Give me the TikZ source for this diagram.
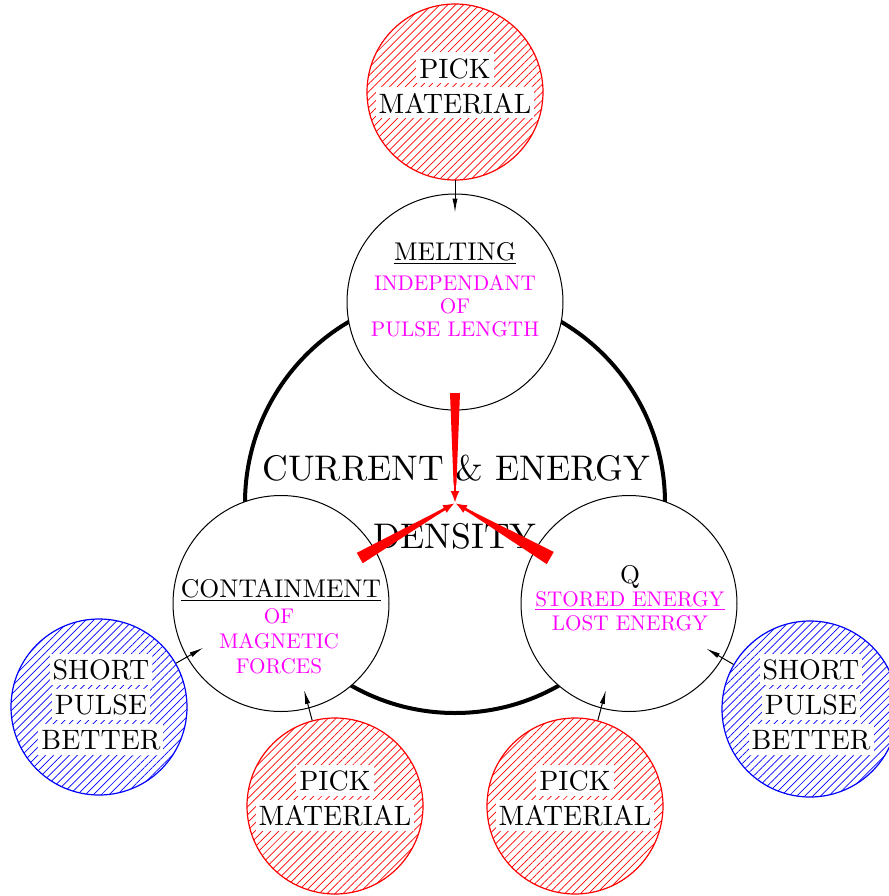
\documentclass[tikz,border=0pt]{standalone}
\usepackage{tikz}
\usetikzlibrary{
  arrows.meta,
  calc,
  chains,
  scopes,
  patterns.meta,
  positioning
}
% one design size for every size, as in the drawing
\DeclareFontShape{TU}{lmr}{m}{n}{<-> "[lmroman10-regular]:mapping=tex-text;"}{}
\definecolor{pinkish}{RGB}{255,0,255}
\setlength{\fboxsep}{1.5pt}
\newcommand{\wbox}[1]{\colorbox{white}{\rule[-1pt]{0pt}{12.5pt}#1}}

\begin{document}
\begin{tikzpicture}[x=0.5pt,y=-0.5pt,
      goal/.style={
         circle,
         minimum size=108pt,
         inner sep=0pt,
         draw=black,
         line width=0.5pt,
         fill=white
      },
      hatched/.style={
         circle,
         minimum size=88pt,
         inner sep=0pt,
         line width=0.6pt,
         draw=#1,
         pattern={Lines[angle=45,distance=2.8pt,line width=0.35pt]},
         pattern color=#1
      },
      hatchtext/.style={align=center, inner sep=0pt, font=\fontsize{14}{17.5}\selectfont},
      title/.style={anchor=base, inner sep=0pt, font=\fontsize{12.8}{15}\selectfont},
      remark/.style={anchor=north, inner sep=0pt, align=center, text=pinkish,
         font=\fontsize{10.6}{#1}\selectfont},
      bigtext/.style={anchor=base, inner sep=0pt, font=\fontsize{17.8}{21}\selectfont},
      >={Latex[length=7pt,width=2.6pt]},
      tip/.style={->, line width=0.5pt, shorten >=-9.5pt},
    ]
    \useasboundingbox (0,0) rectangle (889,896);
    \coordinate (hub) at (455,503);
    \node (ring) [circle, draw, line width=2pt, minimum size=210pt, inner sep=0pt] at (hub) {};

    % the three goals
    \node (melt) [goal] at (455,302) {};
    \node (cont) [goal] at (281,603.5) {};
    \node (qual) [goal] at (629,603.5) {};

    % what helps them
    \node (pickA) [hatched=red] at (455,92) {};
    \node (pickB) [hatched=red] at (335,806) {};
    \node (pickC) [hatched=red] at (575,806) {};
    \node (shortL) [hatched=blue] at (99,707) {};
    \node (shortR) [hatched=blue] at (810,709) {};

    \node (pickAtext) [hatchtext] at (455,85) {\wbox{PICK}\\\wbox{MATERIAL}};
    \node (pickBtext) [hatchtext] at (335,797.5) {\wbox{PICK}\\\wbox{MATERIAL}};
    \node (pickCtext) [hatchtext] at (575,797.5) {\wbox{PICK}\\\wbox{MATERIAL}};
    \node (shortLtext) [hatchtext] at (101,704) {\wbox{SHORT}\\\wbox{PULSE}\\\wbox{BETTER}};
    \node (shortRtext) [hatchtext] at (811,704) {\wbox{SHORT}\\\wbox{PULSE}\\\wbox{BETTER}};

    \node (meltTitle) [title] at (455,260) {\underline{MELTING}};
    \node (meltNote) [remark=11.5pt] at (455,275) {INDEPENDANT\\OF\\PULSE LENGTH};
    \node (contTitle) [title] at (281,597) {\underline{CONTAINMENT}};
    \node (contNote) [remark=12.5pt] at (279,608) {OF\\MAGNETIC\\FORCES};
    \node (qualTitle) [title] at (630,583) {Q};
    \node (qualNote) [remark=12pt] at (630,591) {\underline{STORED ENERGY}\\LOST ENERGY};

    \node (curText) [bigtext] at (456.5,480) {CURRENT \& ENERGY};
    \node (denText) [bigtext] at (455,548) {DENSITY};

  { [start chain]
       \chainin (pickA);
       \chainin (melt)    [join=by tip];
  }
  { [start chain]
       \chainin (shortL);
       \chainin (cont)    [join=by tip];
  }
  { [start chain]
       \chainin (pickB);
       \chainin (cont)    [join=by tip];
  }
  { [start chain]
       \chainin (pickC);
       \chainin (qual)    [join=by tip];
  }
  { [start chain]
       \chainin (shortR);
       \chainin (qual)    [join=by tip];
  }

    % tapered red arrows into the hub
    \coordinate (sM) at ($(hub)!55pt!(melt)$);
    \coordinate (sC) at ($(hub)!55pt!(cont)$);
    \coordinate (sQ) at ($(hub)!55pt!(qual)$);
    \foreach \s/\w in {sM/2.5pt, sC/3pt, sQ/3.5pt} {
       \coordinate (tipbase) at ($(hub)!9pt!(\s)$);
       \fill[red] ($(\s)!\w!90:(hub)$) -- ($(tipbase)!0.7pt!-90:(\s)$)
          -- ($(tipbase)!0.7pt!90:(\s)$) -- ($(\s)!\w!-90:(hub)$) -- cycle;
       \draw[red, line width=1.4pt, -{Latex[length=6pt,width=4.5pt]}] ($(hub)!10pt!(\s)$) -- (hub);
    }
\end{tikzpicture}
\end{document}
